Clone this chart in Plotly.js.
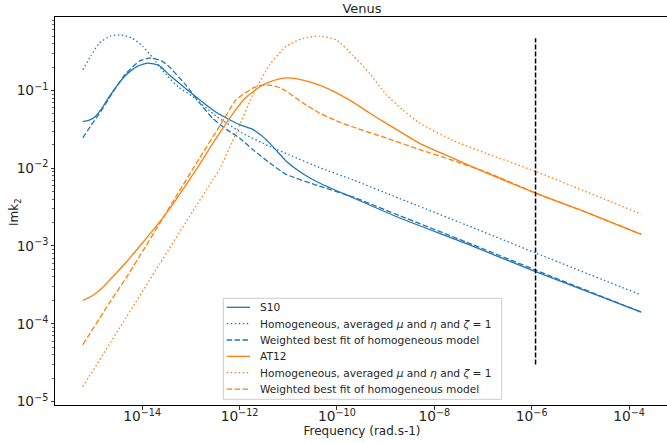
<!DOCTYPE html>
<html>
<head>
<meta charset="utf-8">
<script src="https://cdn.plot.ly/plotly-3.0.1.min.js"></script>
<style>
html,body{margin:0;padding:0;overflow:hidden;background:#fff;width:667px;height:443px;}
#chart{width:672px;height:443px;}
</style>
</head>
<body>
<div id="chart"></div>
<script>
// S10 (solid)
const s10Freq = [6.03e-16, 7.94e-16, 1.07e-15, 1.45e-15, 1.91e-15, 2.51e-15, 3.39e-15, 4.68e-15, 7.94e-15, 1.32e-14, 2.24e-14, 3.63e-14, 7.94e-14, 1.51e-13, 2.82e-13, 5.37e-13, 1e-12, 1.86e-12, 2.82e-12, 4.17e-12, 6.31e-12, 9.12e-12, 2.00e-11, 4.37e-11, 2.14e-10, 1.95e-9, 4.57e-8, 1.20e-6, 1.78e-4];
const s10Imk2 = [0.0398, 0.0412, 0.0457, 0.0575, 0.0759, 0.0977, 0.126, 0.158, 0.204, 0.225, 0.209, 0.158, 0.105, 0.0759, 0.0562, 0.0442, 0.0363, 0.0316, 0.0263, 0.0209, 0.0158, 0.0123, 0.00851, 0.00646, 0.00417, 0.00229, 0.00107, 0.000468, 0.000141];

// S10 homogeneous (dotted)
const s10HomFreq = [6.03e-16, 8.91e-16, 1.32e-15, 2.24e-15, 3.72e-15, 6.31e-15, 1.02e-14, 1.66e-14, 3.16e-14, 5.62e-14, 1.10e-13, 3.31e-13, 1.15e-12, 4.17e-12, 1.07e-11, 4.37e-11, 2.14e-10, 1.95e-9, 4.57e-8, 1.20e-6, 1.78e-4];
const s10HomImk2 = [0.185, 0.282, 0.407, 0.501, 0.520, 0.468, 0.372, 0.263, 0.158, 0.110, 0.0832, 0.0468, 0.0282, 0.0191, 0.0148, 0.0102, 0.00708, 0.00407, 0.00186, 0.000813, 0.000234];

// S10 weighted best fit (dashed)
const s10FitFreq = [6.03e-16, 8.91e-16, 1.45e-15, 2.51e-15, 4.68e-15, 8.91e-15, 1.51e-14, 2.51e-14, 3.63e-14, 7.94e-14, 1.51e-13, 2.82e-13, 5.37e-13, 1e-12, 1.86e-12, 4.17e-12, 9.12e-12, 4.37e-11, 2.14e-10, 1.95e-9, 4.57e-8, 1.20e-6, 1.78e-4];
const s10FitImk2 = [0.0245, 0.0355, 0.0550, 0.0955, 0.166, 0.240, 0.263, 0.240, 0.200, 0.117, 0.0692, 0.0437, 0.0316, 0.0245, 0.0174, 0.0117, 0.00832, 0.00589, 0.00427, 0.00245, 0.00112, 0.000490, 0.000141];

// AT12 (solid)
const at12Freq = [6.03e-16, 8.91e-16, 1.45e-15, 2.14e-15, 4.68e-15, 1.02e-14, 2.29e-14, 5.01e-14, 9.33e-14, 1.51e-13, 2.40e-13, 3.89e-13, 7.24e-13, 1.26e-12, 1.86e-12, 2.82e-12, 4.17e-12, 6.31e-12, 9.77e-12, 2.00e-11, 4.37e-11, 9.77e-11, 2.14e-10, 4.68e-10, 1.02e-9, 5.01e-9, 2.40e-8, 1.17e-7, 1.20e-6, 1.12e-5, 1.78e-4];
const at12Imk2 = [2.00e-4, 2.24e-4, 2.82e-4, 3.63e-4, 6.17e-4, 1.10e-3, 2.04e-3, 3.98e-3, 7.08e-3, 0.0112, 0.0178, 0.0282, 0.0501, 0.0776, 0.0955, 0.115, 0.129, 0.140, 0.145, 0.136, 0.117, 0.0933, 0.0708, 0.0513, 0.0380, 0.0209, 0.0135, 0.00871, 0.00479, 0.00282, 0.00141];

// AT12 homogeneous (dotted)
const at12HomFreq = [6.03e-16, 4.68e-15, 2.29e-14, 1.10e-13, 2.82e-13, 3.89e-13, 8.51e-13, 1.86e-12, 4.17e-12, 9.12e-12, 2.00e-11, 4.37e-11, 9.77e-11, 2.14e-10, 4.68e-10, 1.02e-9, 2.24e-9, 5.01e-9, 2.40e-8, 1.17e-7, 1.20e-6, 1.12e-5, 1.78e-4];
const at12HomImk2 = [1.55e-5, 1.20e-4, 5.89e-4, 2.82e-3, 7.08e-3, 9.77e-3, 0.0282, 0.0871, 0.214, 0.372, 0.468, 0.501, 0.447, 0.282, 0.166, 0.0891, 0.0562, 0.0380, 0.0229, 0.0155, 0.00912, 0.00519, 0.00257];

// AT12 weighted best fit (dashed)
const at12FitFreq = [6.03e-16, 2.14e-15, 4.68e-15, 1.02e-14, 2.29e-14, 5.01e-14, 1.51e-13, 3.89e-13, 8.51e-13, 1.86e-12, 2.82e-12, 4.17e-12, 6.31e-12, 9.12e-12, 2.00e-11, 4.37e-11, 9.77e-11, 2.14e-10, 1.02e-9, 5.01e-9, 2.40e-8, 1.17e-7, 2.19e-7, 1.20e-6, 1.12e-5, 1.78e-4];
const at12FitImk2 = [5.37e-5, 1.86e-4, 3.89e-4, 8.51e-4, 1.95e-3, 4.37e-3, 0.0135, 0.0347, 0.0759, 0.107, 0.117, 0.117, 0.110, 0.0977, 0.0692, 0.0513, 0.0407, 0.0339, 0.0245, 0.0174, 0.0126, 0.00891, 0.00759, 0.00479, 0.00282, 0.00141];

// vertical marker
const markerFreq = [1.20e-6, 1.20e-6];
const markerImk2 = [3.0e-5, 0.47];

const seriesNames = [
  'S10',
  'Homogeneous, averaged <i>μ</i> and <i>η</i> and <i>ζ</i> = 1',
  'Weighted best fit of homogeneous model',
  'AT12',
  'Homogeneous, averaged <i>μ</i> and <i>η</i> and <i>ζ</i> = 1',
  'Weighted best fit of homogeneous model'
];

const BLUE = '#1f77b4', ORANGE = '#ff7f0e';
const DOT = '1.5px,2.5px', DASH = '5.5px,2.4px';
const LW = 1.3;
const styles = [
  {color: BLUE, dash: 'solid'}, {color: BLUE, dash: DOT}, {color: BLUE, dash: DASH},
  {color: ORANGE, dash: 'solid'}, {color: ORANGE, dash: DOT}, {color: ORANGE, dash: DASH}
];
const xs = [s10Freq, s10HomFreq, s10FitFreq, at12Freq, at12HomFreq, at12FitFreq];
const ys = [s10Imk2, s10HomImk2, s10FitImk2, at12Imk2, at12HomImk2, at12FitImk2];

const data = xs.map((x, i) => ({
  x: x, y: ys[i], name: seriesNames[i], type: 'scatter', mode: 'lines', showlegend: false,
  line: {color: styles[i].color, width: LW, dash: styles[i].dash, shape: 'spline', smoothing: 0.5},
  hoverinfo: 'skip'
}));
data.push({x: markerFreq, y: markerImk2, type: 'scatter', mode: 'lines', showlegend: false,
   line: {color: 'black', width: 1.5, dash: '5px,2px'}, hoverinfo: 'skip'});

// plot area in pixels
const PL = 55, PR = 669, PT = 17, PB = 405;
const px2x = p => (p - PL) / (PR - PL);
const px2y = p => (PB - p) / (PB - PT);

const FONT = 'DejaVu Sans, sans-serif';
const TXT = '#262626';

// manual legend (matplotlib style)
const shapes = [{type: 'rect', xref: 'paper', yref: 'paper', layer: 'above',
  x0: px2x(223.3), x1: px2x(501.7), y0: px2y(399.3), y1: px2y(298.3),
  fillcolor: 'rgba(255,255,255,0.8)', line: {color: '#cccccc', width: 1}}];
const annotations = [];
seriesNames.forEach((name, i) => {
  const py = 307.3 + i * 16.35;
  shapes.push({type: 'line', xref: 'paper', yref: 'paper', layer: 'above',
    x0: px2x(226.7), x1: px2x(250), y0: px2y(py), y1: px2y(py),
    line: {color: styles[i].color, width: LW, dash: styles[i].dash}});
  annotations.push({xref: 'paper', yref: 'paper', x: px2x(258.3), y: px2y(py),
    xanchor: 'left', yanchor: 'middle', showarrow: false, text: name,
    font: {family: FONT, size: 10.6, color: TXT}});
});
// y-axis title placed as matplotlib does
annotations.push({xref: 'paper', yref: 'paper', x: px2x(15), y: px2y(212),
  xanchor: 'center', yanchor: 'middle', showarrow: false, textangle: -90,
  text: 'Imk<sub>2</sub>', font: {family: FONT, size: 12, color: TXT}});

const layout = {
  width: 672, height: 443,
  margin: {l: PL, r: 672 - PR, t: PT, b: 443 - PB},
  paper_bgcolor: '#fff', plot_bgcolor: '#fff',
  font: {family: FONT, size: 11, color: TXT},
  title: {text: 'Venus', font: {family: FONT, size: 13, color: TXT},
          x: (PL + PR) / 2 / 672, xanchor: 'center', xref: 'container',
          y: 1 - 8.5 / 443, yanchor: 'middle', yref: 'container'},
  showlegend: false,
  shapes: shapes,
  annotations: annotations,
  xaxis: {type: 'log', range: [-15.79, -3.18], dtick: 2, tick0: 0,
          exponentformat: 'power', showgrid: false, zeroline: false,
          showline: true, linecolor: '#000', linewidth: 1, mirror: true,
          ticks: 'outside', ticklen: 3.5, tickcolor: '#000', tickwidth: 0.8,
          ticklabelstandoff: -4,
          tickfont: {family: FONT, size: 11, color: TXT},
          title: {text: 'Frequency (rad.s-1)', font: {family: FONT, size: 12, color: TXT}, standoff: 2}},
  yaxis: {type: 'log', range: [-5.045, -0.055], dtick: 1,
          exponentformat: 'power', showgrid: false, zeroline: false,
          showline: true, linecolor: '#000', linewidth: 1, mirror: true,
          ticks: 'outside', ticklen: 3.5, tickcolor: '#000', tickwidth: 0.8,
          minor: {ticks: 'outside', ticklen: 2, tickcolor: '#000', tickwidth: 0.6, dtick: 'D1', showgrid: false},
          tickfont: {family: FONT, size: 11, color: TXT}}
};

Plotly.newPlot('chart', data, layout, {staticPlot: true, displayModeBar: false});
</script>
</body>
</html>
